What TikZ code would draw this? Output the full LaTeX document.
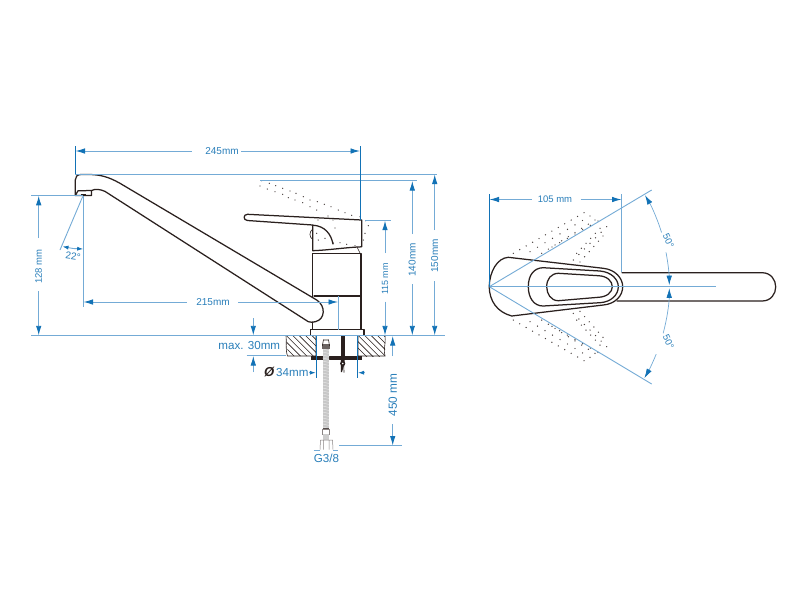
\documentclass[tikz,border=0pt]{standalone}
\usepackage{fontspec}
\setmainfont{Liberation Sans}
\usetikzlibrary{arrows.meta}
\definecolor{dimtxt}{HTML}{2A7FBA}
\definecolor{dimarr}{HTML}{1272B6}
\definecolor{dimln}{HTML}{74ABD6}
\definecolor{ink}{HTML}{2A201E}
\tikzset{
  part/.style={draw=ink,line width=1.25pt,line join=round,line cap=round},
  thin part/.style={draw=ink,line width=0.6pt},
  dim/.style={draw=dimln,line width=0.9pt},
  dimdark/.style={draw=dimarr,line width=0.9pt},
  dimarrow/.style={dim,-{Latex[length=9.5pt,width=5.5pt,color=dimarr]}},
  smallarrow/.style={dim,-{Latex[length=6pt,width=4pt,color=dimarr]}},
  lab/.style={text=dimtxt,inner sep=0pt,font=\fontsize{#1}{12}\selectfont},
  lab/.default=10
}
\newcommand{\gd}[1]{\foreach \p in {#1} {\fill[ink!85] \p circle (0.7);}}
% row of dots and its mirror image about the handle axis
\newcommand{\gr}[5]{\foreach \t in {0,...,#5} {\fill[ink!85] ({#1+(#3-#1)*\t/#5},{#2+(#4-#2)*\t/#5}) circle (0.7);
  \fill[ink!85] ({#1+(#3-#1)*\t/#5},{573.4-(#2+(#4-#2)*\t/#5)}) circle (0.7);}}
\begin{document}
\begin{tikzpicture}[x=1pt,y=-1pt]
\useasboundingbox (0,0) rectangle (800,600);
\fill[white] (0,0) rectangle (800,600);

% ---------- side view: ghost handle
\gd{(261.7,180.7),(269.3,183.3),(275.7,185.7),(282.7,188.3),(290,191),(296,193.3),(303.3,196.7),(310,200),(317.3,201.7),(324.3,204.3),(331,206.7),(338.3,210),(345,212.7),(351.7,215.3),(360,216.7)}
\gd{(260,186),(267.3,189),(275,191.7),(282.7,194.3),(288.3,197.7),(295,200),(302.7,202.7),(310,206.7),(316.7,210)}
\gd{(318,220),(328,216),(333,220),(335,228),(333.3,243),(340,242.7),(346.7,244.3),(355,245.7),(363.3,240),(365,233.3),(368.3,225.7),(365.7,220.7),(316.7,233.3),(318.3,240),(325,238.3)}

% ---------- side view: faucet
\draw[part] (91.5,190.5) .. controls (95,188.8) and (100,189) .. (105,191.4)
  -- (308.3,321.7)
  .. controls (311,322.8) and (313.5,322.3) .. (316,321.5)
  .. controls (325,319) and (326,306) .. (316.7,300)
  -- (120,183.3)
  .. controls (108,176.5) and (100,174.8) .. (90,174.5)
  -- (81,174.5) .. controls (77,174.5) and (75.3,177) .. (75.3,180)
  -- (75.3,195.5) -- (91.5,195.5) -- (91.5,190.5) -- (78,190.8) -- (75.3,195.5);
\fill[ink] (81,193.5) rectangle (86,195.5);
% handle
\draw[part] (361.7,220) -- (247.5,214.3) .. controls (243,214.3) and (243,220.3) .. (247.5,220.5)
  -- (312.7,225) -- (312.7,250.7) .. controls (330,250) and (345,247.5) .. (361.7,246.8) -- cycle;
\draw[part] (313,225.2) .. controls (325,226) and (331,234) .. (333,244);
\draw[thin part] (312.7,229) .. controls (309,232) and (309,237) .. (312.7,239.5);
\draw[thin part] (357,247) -- (360,253);
% body
\draw[part] (312.7,297) -- (312.7,253.5) -- (361,253.5) -- (361,329.3);
\draw[part] (314,296) -- (361,296);
\draw[part] (312.7,322) -- (312.7,329.3);
\draw[part] (310.4,335) -- (310.4,329.5) -- (364,329.5) -- (364,335);

% ---------- counter (hatched)
\begin{scope}
 \clip (286,336) -- (316,336) -- (316,356) -- (288,356) -- cycle;
 \foreach \i in {0,...,9} \draw[thin part] ({272+6.4*\i},334) -- ({296+6.4*\i},358);
\end{scope}
\begin{scope}
 \clip (358,336) -- (385,336) -- (385,356) -- (358,356) -- cycle;
 \foreach \i in {0,...,9} \draw[thin part] ({344+6.4*\i},334) -- ({368+6.4*\i},358);
\end{scope}
\draw[thin part] (286,336) .. controls (287,342) and (285,348) .. (287.5,356) -- (316,356) -- (316,336);
\draw[thin part] (358,336) -- (358,356) -- (385,356) .. controls (383,350) and (386,344) .. (385,336);
% plate, post, bolt
\fill[ink] (310.7,356) rectangle (362.3,360);
\fill[ink] (340.7,336) rectangle (344.7,356);
\fill[ink] (340.9,360) -- (344.5,360) -- (344.5,364) -- (342,372) -- (340.9,372) -- cycle;
\fill[ink] (342.7,363.5) circle (2.6);
\fill[white] (342.7,363.5) circle (0.9);
\draw[thin part] (343.8,364) -- (344,372.5);
% hose
\fill[black!22] (322.5,348) rectangle (329.2,428);
\foreach \i in {0,...,26} \draw[white,opacity=0.55,line width=0.5pt] (322.5,{349+3*\i}) -- (329.2,{350.5+3*\i});
\fill[ink!70] (321.7,344) rectangle (330,349);
\draw[thin part] (322.3,346) -- (323.5,339.5) (329.5,346) -- (328.5,339.5) (323.5,340) -- (328.5,340);
\draw[ink!55,line width=0.5pt] (322.5,429) rectangle (329.2,434);
\draw[ink!80,line width=0.6pt] (322.5,428.5) -- (329.2,428.5);
\fill[black!20] (322.5,434) rectangle (329.2,440);
\draw[ink!55,line width=0.5pt] (320,449.5) -- (320.5,440) -- (332.5,440) -- (333,449.5)
  (323.5,440) -- (323.5,449.5) (329,440) -- (329,449.5);

% ---------- side view dimensions
\draw[dim] (31,335.6) -- (445,335.6);
\draw[dim] (75.3,174.2) -- (437,174.2);
\draw[dim] (260,180.8) -- (417,180.8);
\draw[dim] (365,220.4) -- (391,220.4);
\draw[dim] (31,195.5) -- (83,195.5);
\draw[dimdark] (75.3,146) -- (75.3,174);
\draw[dimdark] (360.3,146) -- (360.3,220);
% 245
\node[lab] (d245) at (222,151) {245mm};
\draw[dimarrow] (191.7,151) -- (75.5,151);
\draw[dimarrow] (241,151) -- (360,151);
% 128
\node[lab=9.5,rotate=90] (d128) at (38.7,266.7) {128 mm};
\draw[dimarrow] (38.7,238) -- (38.7,195.8);
\draw[dimarrow] (38.7,291) -- (38.7,335.3);
% 22
\draw[dim] (83.3,196) -- (83.3,307);
\draw[dim] (82.7,196.5) -- (60,250);
\draw[smallarrow] (73,248.5) -- (62.5,246.5);
\draw[smallarrow] (73,248.5) -- (83.2,249);
\node[lab,rotate=-8] (d22) at (73,256.5) {22°};
% 215
\node[lab] (d215) at (213,302) {215mm};
\draw[dimarrow] (186.7,302) -- (83.5,302);
\draw[dimarrow] (238,302) -- (338,302);
\draw[dim] (338.3,296) -- (338.3,330);
% 115
\node[lab=9,rotate=90] (d115) at (385,279) {115 mm};
\draw[dimarrow] (385,253) -- (385,220.7);
\draw[dimarrow] (385,301.7) -- (385,335.3);
% 140
\node[lab,rotate=90] (d140) at (412.3,260) {140mm};
\draw[dimarrow] (412.3,234) -- (412.3,181);
\draw[dimarrow] (412.3,284) -- (412.3,335.3);
% 150
\node[lab,rotate=90] (d150) at (434.7,256) {150mm};
\draw[dimarrow] (434.7,230) -- (434.7,174.5);
\draw[dimarrow] (434.7,281) -- (434.7,335.3);
% max 30
\node[lab=11.6] (dmax) at (249.3,345) {max. 30mm};
\draw[dim] (246.7,355.7) -- (286,355.7);
\draw[dimarrow] (253.3,318) -- (253.3,335.3);
\draw[dimarrow] (253.3,372) -- (253.3,356);
% 34
\draw[dimdark] (316,335.6) -- (316,378);
\draw[dimdark] (357.7,335.6) -- (357.7,378);
\node[inner sep=0pt,text=ink,font=\fontsize{13}{13}\bfseries\itshape\selectfont] (dphi) at (269.3,372) {Ø};
\node[lab=11.6] (d34) at (292.3,372.7) {34mm};
\draw[smallarrow] (309,372.7) -- (315.8,372.7);
\draw[smallarrow] (364.5,372.7) -- (358,372.7);
% 450
\node[lab=11.8,rotate=90] (d450) at (392.7,395) {450 mm};
\draw[dimarrow] (392.7,356) -- (392.7,336);
\draw[dimarrow] (392.7,424) -- (392.7,445.5);
\draw[dim] (339.3,445.7) -- (401.7,445.7);
% G3/8
\draw[dim] (313.5,450) -- (320,450) (333,450) -- (338,450);
\node[lab=11.6] (dg) at (326.5,458.5) {G3/8};

% ---------- top view: ghost dots (mirrored about the axis)
\gr{513.3}{253.3}{584}{212.7}{11}
\gr{530}{251.7}{590}{216}{8}
\gr{541.7}{253.3}{595}{220}{8}
\gr{552}{247}{598}{221}{6}
\gr{573.3}{260}{606.7}{226.7}{6}
\gr{580}{262}{603}{236}{5}
\gr{576.7}{253.3}{600}{228.3}{5}

% ---------- top view: handle
\draw[part] (622,272.7) -- (762,272.7) .. controls (771,272.7) and (775.7,280) .. (775.7,286.8)
  .. controls (775.7,294) and (771,301) .. (762,301) -- (617,301);
\draw[part] (489.2,286.7) .. controls (489.5,272) and (497,258) .. (508.3,257.3)
  -- (603.3,268.3) .. controls (615,269.5) and (622.7,278) .. (622.7,286.7)
  .. controls (622.7,296) and (615,304) .. (603.3,305) -- (511.7,316)
  .. controls (497,312) and (489.5,301) .. (489.2,286.7) -- cycle;
\draw[part] (528.3,286.7) .. controls (528.3,275) and (534,268) .. (543,267.7)
  -- (600,271) .. controls (611,272) and (618.3,279) .. (618.3,286.7)
  .. controls (618.3,295) and (611,302) .. (600,302.7) -- (543,306)
  .. controls (534,306) and (528.3,298) .. (528.3,286.7) -- cycle;
\draw[part] (546.7,286.7) .. controls (546.7,279) and (551,273.5) .. (558.3,273.3)
  -- (598.3,275.7) .. controls (607,276) and (612.3,281) .. (612.3,286.7)
  .. controls (612.3,292) and (607,297) .. (598.3,297.3) -- (558.3,300.7)
  .. controls (551,300.7) and (546.7,294) .. (546.7,286.7) -- cycle;

% ---------- top view: dimensions
\coordinate (apex) at (489.3,286.7);
\draw[dim] (apex) -- (715.7,286.7);
\draw[dim] (apex) -- (651.7,190);
\draw[dim] (apex) -- (651.7,384);
\draw[dimdark] (489.3,194) -- (apex);
\draw[dim] (621.7,194) -- (621.7,272);
\node[lab=9.5] (d105) at (555,199.5) {105 mm};
\draw[dimarrow] (531.7,199.5) -- (489.5,199.5);
\draw[dimarrow] (580.7,199.5) -- (621.5,199.5);
% arcs
\draw[dim,line width=0.7pt,{Latex[length=9.5pt,width=5.5pt,color=dimarr]}-] (645,195.2) arc[start angle=-30.5,end angle=-17.5,radius=180];
\draw[dim,line width=0.7pt,-{Latex[length=9.5pt,width=5.5pt,color=dimarr]}] (apex) ++(-11:180) arc[start angle=-11,end angle=-0.5,radius=180];
\draw[dim,line width=0.7pt,-{Latex[length=9.5pt,width=5.5pt,color=dimarr]}] (apex) ++(15:180) arc[start angle=15,end angle=0.5,radius=180];
\draw[dim,line width=0.7pt,-{Latex[length=9.5pt,width=5.5pt,color=dimarr]}] (apex) ++(22:180) arc[start angle=22,end angle=30.5,radius=180];
\node[lab=9.5,rotate=-65] (d50a) at (668.5,240.7) {50°};
\node[lab=9.5,rotate=-65] (d50b) at (668.5,342) {50°};
\end{tikzpicture}
\end{document}
